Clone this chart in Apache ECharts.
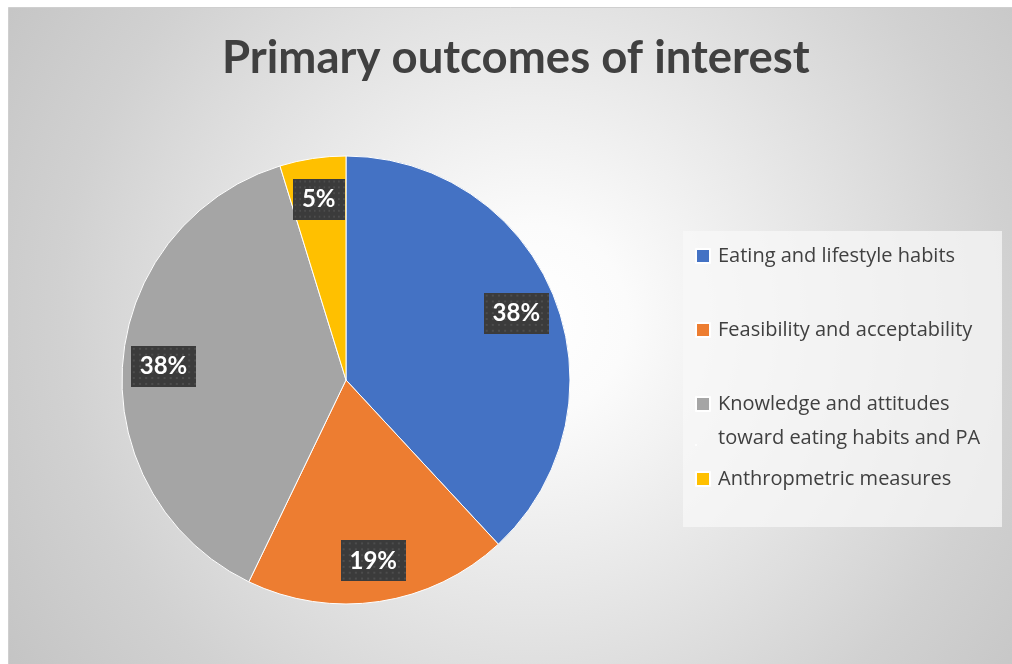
<!DOCTYPE html>
<html>
<head>
<meta charset="utf-8">
<script src="https://cdn.jsdelivr.net/npm/echarts@6/dist/echarts.min.js"></script>
<style>
html,body{margin:0;padding:0;background:#fff;}
#chart{width:1012px;height:664px;}
</style>
</head>
<body>
<div id="chart"></div>
<script>
// ---- data ----
var categories = ['Eating and lifestyle habits', 'Feasibility and acceptability', 'Knowledge and attitudes toward eating habits and PA', 'Anthropmetric measures'];
var legendLabels = ['Eating and lifestyle habits', 'Feasibility and acceptability', 'Knowledge and attitudes\ntoward eating habits and PA', 'Anthropmetric measures'];
var counts = [8, 4, 8, 1];
var colors = ['#4472C4', '#ED7D31', '#A5A5A5', '#FFC000'];
var titleText = 'Primary outcomes of interest';

// dotted pattern for the label boxes
var pat = document.createElement('canvas');
pat.width = 64; pat.height = 42;
var pc = pat.getContext('2d');
pc.fillStyle = '#3b3b3b'; pc.fillRect(0, 0, 64, 42);
pc.fillStyle = '#4d4d4d';
for (var yy = 2; yy < 42; yy += 6) {
  for (var xx = 2; xx < 64; xx += 6) { pc.fillRect(xx, yy, 2, 2); }
}

var seriesData = categories.map(function (c, i) {
  return { name: c, value: counts[i], itemStyle: { color: colors[i] } };
});

var chart = echarts.init(document.getElementById('chart'), null, { renderer: 'canvas' });

var legendTops = [239, 313, 382, 462];
var legends = categories.map(function (c, i) {
  var two = i === 2;
  return {
    orient: 'vertical',
    left: 690,
    top: legendTops[i],
    itemWidth: 14,
    itemHeight: two ? 48 : 14,
    itemGap: 0,
    icon: two ? 'path://M0,0H14V14H0Z M0,47.95H0.05V48H0Z' : 'rect',
    selectedMode: false,
    data: [c],
    formatter: function () { return legendLabels[i]; },
    textStyle: {
      color: '#404040',
      fontSize: 20,
      fontFamily: 'Open Sans',
      lineHeight: two ? 34 : 24,
      padding: [0, 0, 0, 3]
    }
  };
});

var option = {
  backgroundColor: '#ffffff',
  animation: false,
  graphic: [
    {
      type: 'rect', z: -10, silent: true,
      shape: { x: 8.5, y: 7.5, width: 1010, height: 664 },
      style: {
        fill: {
          type: 'radial', x: 0.52, y: 0.47, r: 0.95,
          colorStops: [
            { offset: 0, color: '#ffffff' },
            { offset: 0.15, color: '#fbfbfb' },
            { offset: 0.45, color: '#e6e6e6' },
            { offset: 0.75, color: '#d1d1d1' },
            { offset: 1, color: '#c4c4c4' }
          ]
        },
        stroke: '#cfcfcf', lineWidth: 1
      }
    },
    {
      type: 'rect', z: -5, silent: true,
      shape: { x: 683, y: 231, width: 319, height: 296 },
      style: { fill: 'rgba(248,248,248,0.72)' }
    }
  ],
  title: {
    text: titleText,
    left: 217,
    top: 30,
    textStyle: {
      fontFamily: 'Lato',
      fontWeight: 'bold',
      fontSize: 45.5,
      color: '#404040'
    }
  },
  legend: legends,
  series: [
    {
      type: 'pie',
      center: [346, 380],
      radius: [0, 224],
      startAngle: 90,
      clockwise: true,
      silent: true,
      avoidLabelOverlap: false,
      itemStyle: { borderColor: '#ffffff', borderWidth: 1 },
      label: { show: false },
      labelLine: { show: false },
      emphasis: { disabled: true },
      data: seriesData
    },
    {
      type: 'pie',
      center: [346, 380],
      radius: [164, 196],
      startAngle: 90,
      clockwise: true,
      silent: true,
      avoidLabelOverlap: false,
      itemStyle: { color: 'rgba(0,0,0,0)', borderWidth: 0 },
      labelLine: { show: false },
      emphasis: { disabled: true },
      label: {
        show: true,
        position: 'inside',
        formatter: function (p) { return Math.round(p.percent) + '%'; },
        color: '#ffffff',
        fontFamily: 'Lato',
        fontWeight: 'bold',
        fontSize: 24,
        lineHeight: 26,
        padding: [8, 9, 7, 9],
        backgroundColor: { image: pat },
        shadowColor: 'rgba(0,0,0,0.45)',
        shadowBlur: 6,
        shadowOffsetX: 3,
        shadowOffsetY: 3
      },
      data: categories.map(function (c, i) { return { name: c, value: counts[i] }; })
    }
  ]
};
chart.setOption(option);
</script>
</body>
</html>
